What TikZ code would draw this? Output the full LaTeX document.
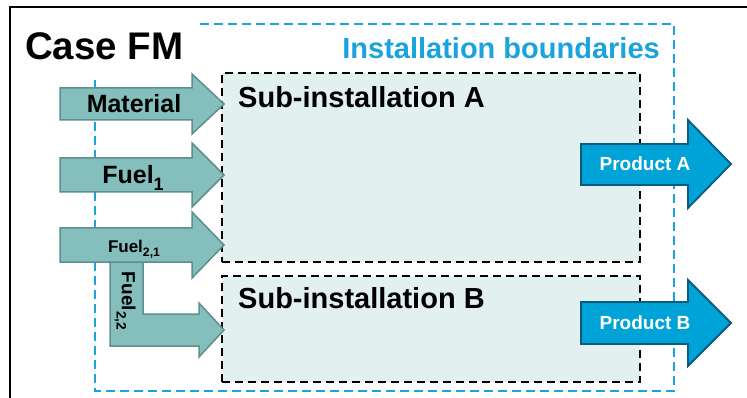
\documentclass[tikz,border=0pt]{standalone}
\usepackage{fontspec}
\setmainfont{Liberation Sans}
\definecolor{tealfill}{HTML}{84BEBD}
\definecolor{tealline}{HTML}{5E8E8D}
\definecolor{subfill}{HTML}{E2F0F0}
\definecolor{bndblue}{HTML}{1AA3DD}
\definecolor{prodfill}{HTML}{00A3D8}
\definecolor{prodline}{HTML}{0B5A80}
\newcommand\mysub[1]{\raisebox{-0.28em}{\scalebox{0.72}{#1}}}
\tikzset{
  inarrow/.style={fill=tealfill,draw=tealline,line width=1.5pt,line join=miter},
  outarrow/.style={fill=prodfill,draw=prodline,line width=1.8pt,line join=miter},
  subbox/.style={rectangle,fill=subfill,draw=black,line width=2pt,dash pattern=on 8pt off 5pt,inner sep=0pt},
  lbl/.style={inner sep=0pt,font=\bfseries},
}
\begin{document}
\begin{tikzpicture}[x=1pt,y=-1pt]
\useasboundingbox (0,0) rectangle (747,398);
% sub-installation boxes
\node[subbox,minimum width=418pt,minimum height=189pt] (subA) at (431,167.5) {};
\node[subbox,minimum width=418pt,minimum height=106pt] (subB) at (431,329) {};
% installation boundary
\draw[bndblue,line width=1.8pt,dash pattern=on 9pt off 5pt] (200,24) -- (674,24) -- (674,391) -- (95,391) -- (95,80);
% outer frame
\draw[line width=2pt] (760,7) -- (10,7) -- (10,410);
% input arrows
\draw[inarrow] (110,250) -- (143,250) -- (143,314) -- (199,314) -- (199,303) -- (224,330) -- (199,357) -- (199,346) -- (110,346) -- cycle;
\draw[inarrow] (60,88) -- (192,88) -- (192,74) -- (224,104) -- (192,134) -- (192,120) -- (60,120) -- cycle;
\draw[inarrow] (60,158) -- (192,158) -- (192,143) -- (224,175) -- (192,207) -- (192,192) -- (60,192) -- cycle;
\draw[inarrow] (60,228) -- (192,228) -- (192,212) -- (224,245) -- (192,278) -- (192,262) -- (60,262) -- cycle;
% output arrows
\draw[outarrow] (581,144) -- (688,144) -- (688,120) -- (731,164) -- (688,208) -- (688,185) -- (581,185) -- cycle;
\draw[outarrow] (581,302) -- (688,302) -- (688,280) -- (731,323) -- (688,366) -- (688,344) -- (581,344) -- cycle;
% texts
\node[lbl,anchor=base west,font=\fontsize{38.5}{40}\selectfont\bfseries] (case) at (25,60) {Case FM};
\node[lbl,anchor=base east,text=bndblue,font=\fontsize{29}{31}\selectfont\bfseries] (bnd) at (660,59) {Installation boundaries};
\node[lbl,anchor=base west,font=\fontsize{29}{30}\selectfont\bfseries] (subAt) at (238,108) {Sub-installation A};
\node[lbl,anchor=base west,font=\fontsize{29}{30}\selectfont\bfseries] (subBt) at (238,308) {Sub-installation B};
\node[lbl,anchor=base,font=\fontsize{25}{27}\selectfont\bfseries] (mat) at (134,113) {Material};
\node[lbl,anchor=base,font=\fontsize{25}{27}\selectfont\bfseries] (f1) at (133,184) {Fuel\mysub{1}};
\node[lbl,anchor=base,font=\fontsize{17}{19}\selectfont\bfseries] (f21) at (134,252) {Fuel\mysub{2,1}};
\node[lbl,rotate=-90,font=\fontsize{19}{21}\selectfont\bfseries] (f22) at (125,301) {Fuel\mysub{2,2}};
\node[lbl,text=white,font=\fontsize{19}{21}\selectfont\bfseries] (pA) at (645,164) {Product A};
\node[lbl,text=white,font=\fontsize{19}{21}\selectfont\bfseries] (pB) at (645,323) {Product B};
\end{tikzpicture}
\end{document}
